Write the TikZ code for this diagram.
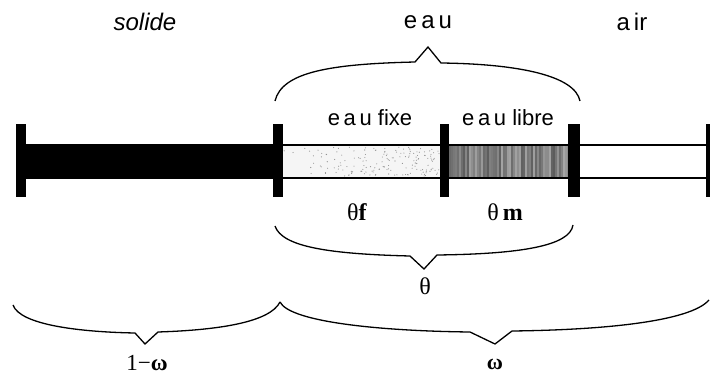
\documentclass[tikz,border=0pt]{standalone}
\usepackage{fontspec}
\setmainfont{Liberation Serif}
\newfontfamily\arialf{Liberation Sans}
\begin{document}
\begin{tikzpicture}[x=1pt,y=-1pt,
  tick/.style={fill=black},
  brace/.style={line width=1.3pt,line join=miter},
  toplbl/.style={font=\arialf\fontsize{24}{26}\selectfont,inner sep=0pt},
  seclbl/.style={font=\arialf\fontsize{22}{24}\selectfont,inner sep=0pt},
  mlbl/.style={font=\fontsize{24}{26}\selectfont,inner sep=0pt}]
\useasboundingbox (0,0) rectangle (710,374);
% solid part
\fill[black] (21,144) rectangle (278,179);
% eau fixe: stippled
\fill[black!4] (283,146) rectangle (440,177);
\pgfmathsetseed{7}
\foreach \i in {1,...,170}{
  \pgfmathsetmacro\px{283+157*sqrt(rnd)}
  \pgfmathsetmacro\py{147+29*rnd}
  \fill[black!45] (\px,\py) circle (0.55);
}
% eau libre: striped grey
\fill[black!45] (449,146) rectangle (568,177);
\foreach \i in {0,...,58}{
  \pgfmathsetmacro\s{int(35+30*rnd)}
  \draw[black!\s,line width=1.2pt] ({450+2*\i},146) -- ({450+2*\i},177);
}
% bar outline
\draw[line width=2pt] (278,145) -- (708,145);
\draw[line width=2pt] (278,178) -- (708,178);
% ticks
\fill[tick] (16,124) rectangle (26,197);
\fill[tick] (273,124) rectangle (283,197);
\fill[tick] (440,124) rectangle (449,197);
\fill[tick] (568,124) rectangle (580,197);
\fill[tick] (706,124) rectangle (710,197);
% labels
\node[toplbl] (solide) at (145,22) {\itshape solide};
\node[toplbl] (eau) at (428,22) {e\,a\,u};
\node[toplbl] (air) at (632,22) {a\,ir};
\node[seclbl] (fixe) at (370,118) {e\,a\,u fixe};
\node[seclbl] (libre) at (508,118) {e\,a\,u libre};
\node[mlbl] (tf) at (357,212) {θ\textbf{f}};
\node[mlbl] (tm) at (505,212) {θ\,\textbf{m}};
\node[mlbl] (th) at (425,286) {θ};
\node[font=\fontsize{23}{24}\selectfont,inner sep=0pt] (om1) at (147,363) {1−\textbf{ω}};
\node[font=\fontsize{22}{24}\selectfont,inner sep=0pt] (om) at (495,364) {\textbf{ω}};
% braces
\draw[brace] (275,101) .. controls (282,72) and (330,64) .. (415,62) -- (428,47) -- (441,63) .. controls (520,64) and (575,76) .. (580,101);
\draw[brace] (275,226) .. controls (282,247) and (330,254) .. (410,256) -- (424,269) -- (437,255) .. controls (520,254) and (570,246) .. (573,225);
\draw[brace] (13,305) .. controls (20,325) and (80,332) .. (135,333) -- (145,344) -- (158,332) .. controls (220,330) and (270,322) .. (280,302);
\draw[brace] (280,302) .. controls (290,322) and (380,331) .. (470,332) -- (495,344) -- (512,331) .. controls (600,330) and (690,322) .. (709,300);
\end{tikzpicture}
\end{document}
